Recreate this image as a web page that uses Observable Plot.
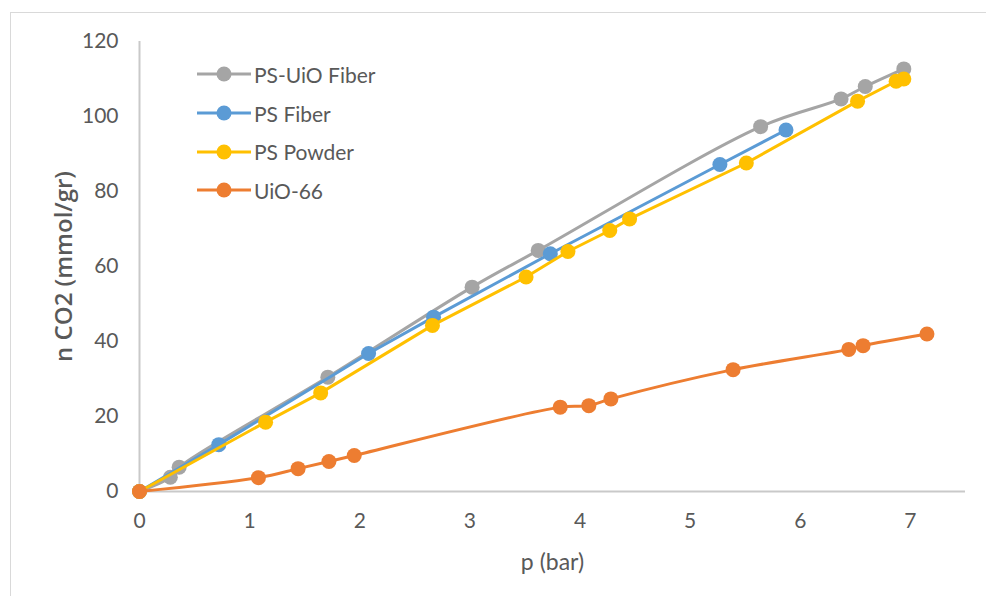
<!DOCTYPE html>
<html>
<head>
<meta charset="utf-8">
<script src="https://cdn.jsdelivr.net/npm/d3@7"></script>
<script src="https://cdn.jsdelivr.net/npm/@observablehq/plot@0.6"></script>
<style>
  html, body { margin: 0; padding: 0; background: #fff; }
  #wrap { position: relative; width: 986px; height: 596px; overflow: hidden; font-family: Lato, "Open Sans", sans-serif; }
  #frame { position: absolute; left: 10px; top: 12px; width: 1000px; height: 700px; border-top: 1.5px solid #d9d9d9; border-left: 1.5px solid #d9d9d9; pointer-events: none; }
  #legend { position: absolute; left: 196px; top: 55px; color: #595959; font-size: 21px; }
  .row { display: flex; align-items: center; height: 38.7px; }
  .row svg { margin-right: 2px; }
</style>
</head>
<body>
<div id="wrap">
  <div id="frame"></div>
  <div id="chart"></div>
  <div id="legend"></div>
</div>
<script>
// PS-UiO Fiber
const psUioX = [0, 0.28, 0.36, 1.71, 3.02, 3.62, 5.64, 6.37, 6.59, 6.94];
const psUioY = [0, 3.8, 6.5, 30.5, 54.5, 64.3, 97.3, 104.7, 108.0, 112.7];
// PS Fiber
const psFiberX = [0, 0.72, 2.08, 2.67, 3.73, 5.27, 5.87];
const psFiberY = [0, 12.5, 36.8, 46.5, 63.4, 87.2, 96.4];
// PS Powder
const psPowderX = [0, 1.145, 1.645, 2.66, 3.51, 3.89, 4.27, 4.45, 5.51, 6.52, 6.87, 6.94];
const psPowderY = [0, 18.5, 26.3, 44.3, 57.2, 64.0, 69.6, 72.7, 87.6, 104.1, 109.4, 110.0];
// UiO-66
const uioX = [0, 1.08, 1.44, 1.72, 1.95, 3.82, 4.08, 4.28, 5.39, 6.44, 6.57, 7.15];
const uioY = [0, 3.7, 6.1, 8.0, 9.6, 22.5, 22.9, 24.7, 32.5, 37.9, 38.9, 42.0];

const seriesNames = ["PS-UiO Fiber", "PS Fiber", "PS Powder", "UiO-66"];
const seriesColors = ["#A5A5A5", "#5B9BD5", "#FFC000", "#ED7D31"];
const seriesCurves = ["catmull-rom", "linear", "linear", "catmull-rom"];
const xTicks = [0, 1, 2, 3, 4, 5, 6, 7];
const yTicks = [0, 20, 40, 60, 80, 100, 120];

const rawX = [psUioX, psFiberX, psPowderX, uioX];
const rawY = [psUioY, psFiberY, psPowderY, uioY];

const series = seriesNames.map((name, i) => rawX[i].map((x, j) => ({ name, x, y: rawY[i][j] })));

const marks = [
  Plot.ruleY([0], { stroke: "#c9c9c9", strokeWidth: 2 }),
  Plot.ruleX([0], { stroke: "#c9c9c9", strokeWidth: 2 }),
  Plot.axisX({ ticks: xTicks, tickSize: 0, tickPadding: 22, fontSize: 21, color: "#595959", label: null }),
  Plot.axisY({ ticks: yTicks, tickSize: 0, tickPadding: 21, fontSize: 21, color: "#595959", label: null })
];
series.forEach((data, i) => {
  marks.push(Plot.line(data, { x: "x", y: "y", stroke: seriesColors[i], strokeWidth: 3, curve: seriesCurves[i] }));
  marks.push(Plot.dot(data, { x: "x", y: "y", r: 7.5, fill: seriesColors[i], stroke: "none" }));
});
marks.push(Plot.text(["p (bar)"], { frameAnchor: "bottom", dy: 78, fontSize: 23, fill: "#595959" }));
marks.push(Plot.text(["n CO2 (mmol/gr)"], { frameAnchor: "left", textAnchor: "middle", dx: -75, rotate: -90, fontSize: 24, fontWeight: 600, fontFamily: "'Open Sans', sans-serif", fill: "#595959" }));

const chart = Plot.plot({
  width: 986,
  height: 596,
  marginLeft: 139,
  marginRight: 21,
  marginTop: 41,
  marginBottom: 105,
  x: { domain: [0, 7.5] },
  y: { domain: [0, 120] },
  style: { fontFamily: "Lato, 'Open Sans', sans-serif", background: "transparent", overflow: "visible" },
  marks
});
document.getElementById("chart").appendChild(chart);

const legend = document.getElementById("legend");
seriesNames.forEach((name, i) => {
  const row = document.createElement("div");
  row.className = "row";
  row.innerHTML = `<svg width="56" height="18"><line x1="1" y1="9" x2="55" y2="9" stroke="${seriesColors[i]}" stroke-width="3"/><circle cx="28" cy="9" r="7.5" fill="${seriesColors[i]}"/></svg><span>${name}</span>`;
  legend.appendChild(row);
});
</script>
</body>
</html>
